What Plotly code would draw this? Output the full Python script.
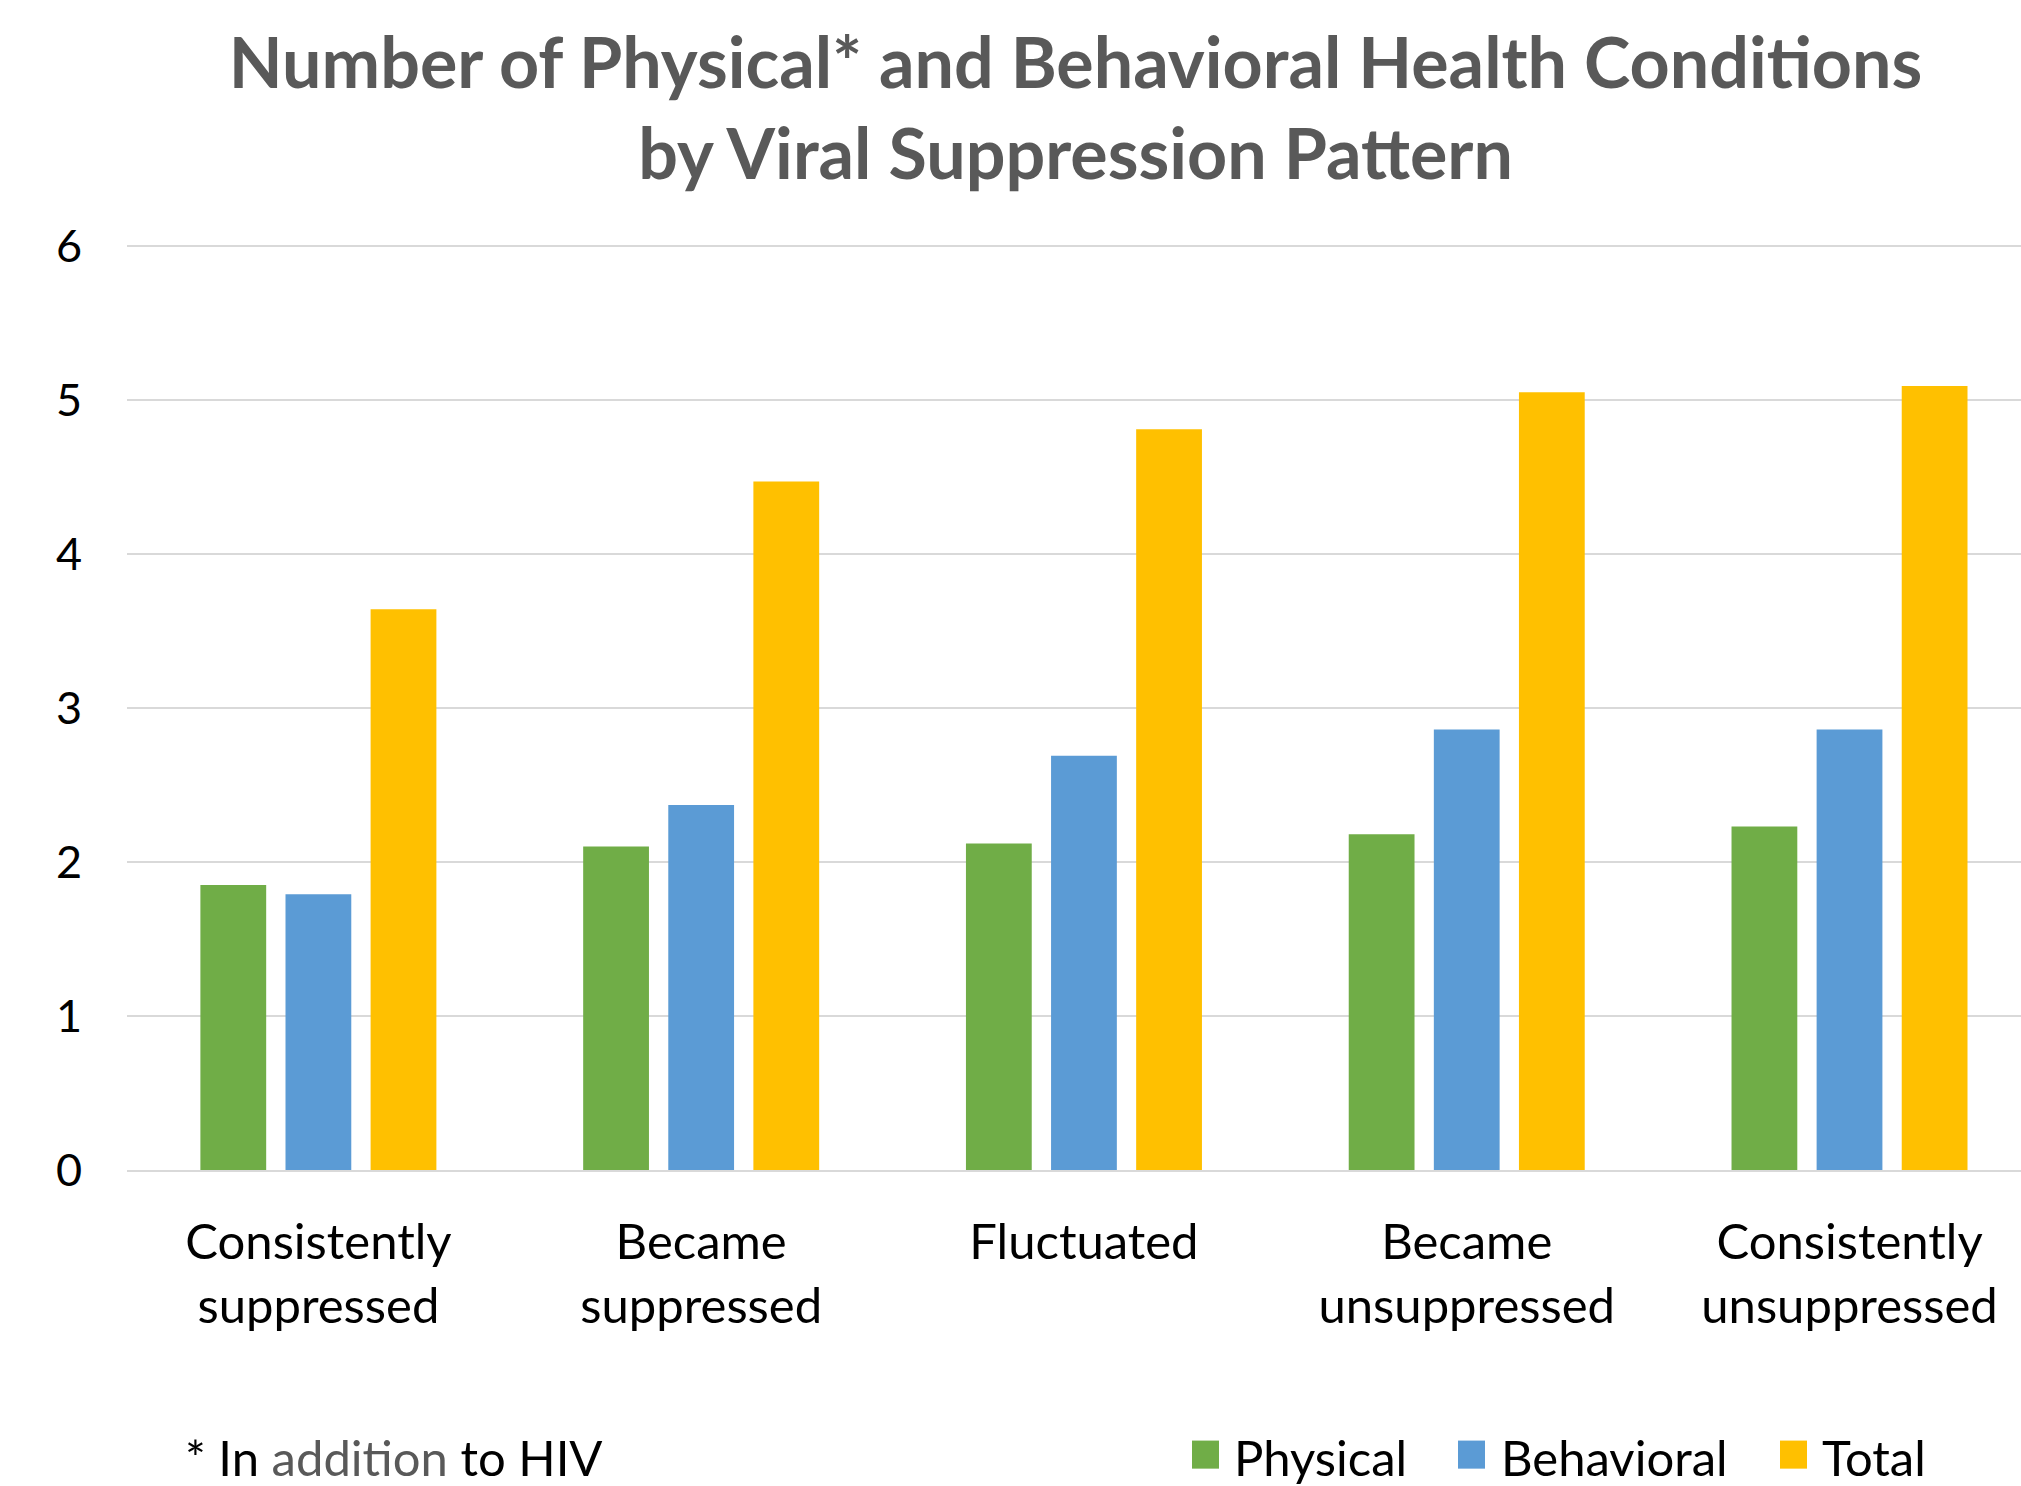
import plotly.graph_objects as go

categories = ["Consistently<br>suppressed", "Became<br>suppressed", "Fluctuated",
              "Became<br>unsuppressed", "Consistently<br>unsuppressed"]
physical = [1.85, 2.10, 2.12, 2.18, 2.23]
behavioral = [1.79, 2.37, 2.69, 2.86, 2.86]
total = [3.64, 4.47, 4.81, 5.05, 5.09]
series_names = ["Physical", "Behavioral", "Total"]
series_colors = ["#70AD47", "#5B9BD5", "#FFC000"]
y_ticks = [0, 1, 2, 3, 4, 5, 6]

W, H = 2021, 1486
FONT = "Lato"
L, TOP, BOT = 127, 246, 1170
PH = BOT - TOP

fig = go.Figure()
for name, vals, col in zip(series_names, [physical, behavioral, total], series_colors):
    fig.add_trace(go.Bar(x=categories, y=vals, name=name, marker_color=col,
                         marker_line_width=0, showlegend=False))

ymax = 6.012
fig.update_layout(
    width=W, height=H,
    margin=dict(l=L, r=0, t=TOP - (ymax - 6) * PH / 6, b=H - BOT, pad=0),
    paper_bgcolor="white", plot_bgcolor="white",
    barmode="group", bargap=0.333, bargroupgap=0.227,
    font=dict(family=FONT, color="black"),
    title=dict(text="Number of Physical* and Behavioral Health Conditions<br>by Viral Suppression Pattern",
               x=0.5322, xanchor="center", y=1 - 88 / H, yanchor="middle",
               font=dict(family=FONT, size=70, color="#595959", weight="bold")),
    xaxis=dict(range=[-0.5, 4.448], showgrid=False, showline=True, linecolor="#D9D9D9",
               linewidth=2, ticks="", tickfont=dict(size=49, color="black"),
               ticklabelstandoff=28),
    yaxis=dict(range=[0, ymax], tickvals=y_ticks, showgrid=True, gridcolor="#D9D9D9",
               gridwidth=2, zeroline=False, showline=False, ticks="",
               tickfont=dict(size=45, color="black"), ticklabelstandoff=44),
)

def py(ypix):
    return -(ypix - BOT) / PH

def px(xpix):
    return (xpix - L) / (W - L)

# footnote
fig.add_annotation(text="* In <span style='color:#595959'>addition</span> to HIV",
                   xref="paper", yref="paper", x=px(183), xanchor="left",
                   y=py(1456), yanchor="middle", showarrow=False,
                   font=dict(size=49, color="black"))

# custom legend (large square swatches)
leg_sq = [1192, 1458, 1780]
leg_tx = [1232, 1499, 1820]
for name, col, sx, tx in zip(series_names, series_colors, leg_sq, leg_tx):
    fig.add_shape(type="rect", xref="paper", yref="paper",
                  x0=px(sx), x1=px(sx + 27), y0=py(1468), y1=py(1440),
                  fillcolor=col, line_width=0)
    fig.add_annotation(text=name, xref="paper", yref="paper",
                       x=px(tx), xanchor="left", y=py(1456), yanchor="middle",
                       showarrow=False, font=dict(size=49, color="black"))

fig.write_html("out.html")
